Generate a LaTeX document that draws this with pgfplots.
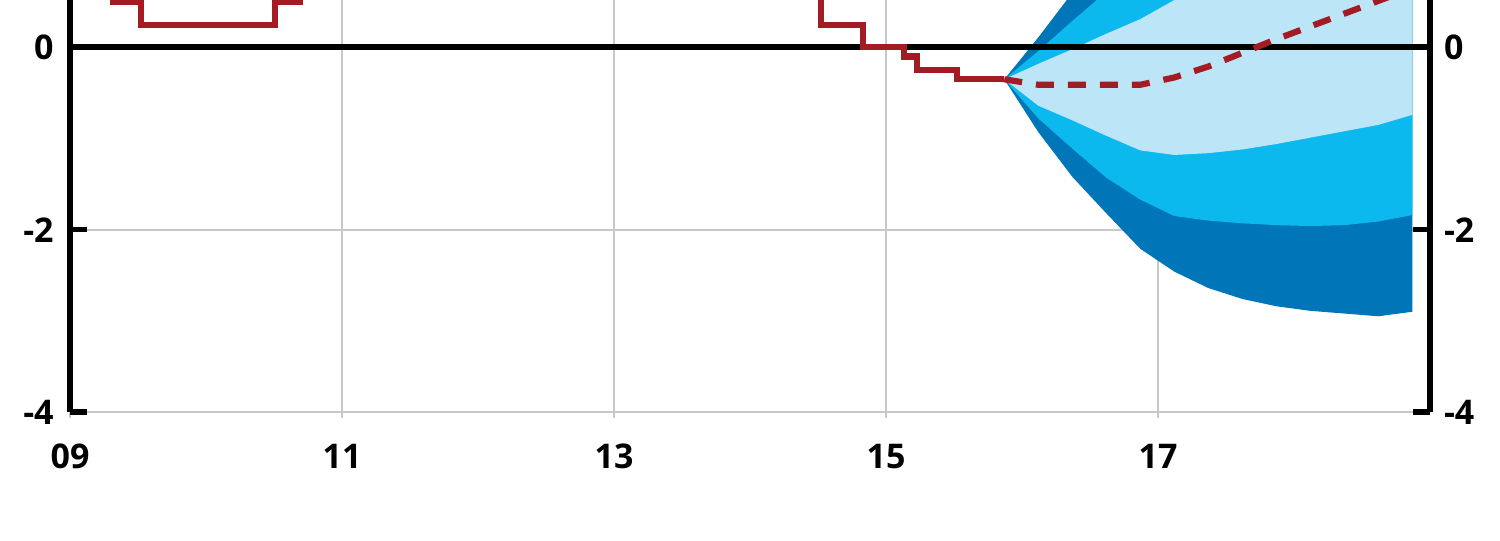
\documentclass[border=0pt]{standalone}
\usepackage{fontspec}
\setmainfont{Open Sans}
\usepackage{pgfplots}
\usepackage{pgfplotstable}
\pgfplotsset{compat=1.18}
\usepgfplotslibrary{fillbetween}
\usetikzlibrary{calc}

\definecolor{repored}{RGB}{163,28,36}
\definecolor{band90}{RGB}{0,117,184}
\definecolor{band75}{RGB}{12,185,238}
\definecolor{band50}{RGB}{189,229,248}
\definecolor{gridgray}{RGB}{200,200,200}

% repo rate, outcome (value holds from x until the next row)
\pgfplotstableread{
x y
9.00 2.00
9.13 1.00
9.32 0.50
9.52 0.25
10.51 0.50
10.69 0.75
10.82 1.00
10.97 1.25
11.14 1.50
11.32 1.75
11.51 2.00
11.97 1.75
12.14 1.50
12.70 1.25
12.97 1.00
13.96 0.75
14.52 0.25
14.83 0.00
15.13 -0.10
15.23 -0.25
15.52 -0.35
15.87 -0.35
}\repo

% forecast and uncertainty bands
\pgfplotstableread{
x f l50 u50 l75 u75 l90 u90
15.87 -0.35 -0.35 -0.35 -0.35 -0.35 -0.35 -0.35
16.12 -0.41 -0.64 -0.18 -0.78 -0.04 -0.93 0.11
16.37 -0.41 -0.80 -0.02 -1.11 0.29 -1.42 0.60
16.62 -0.41 -0.97 0.15 -1.43 0.61 -1.82 1.00
16.87 -0.41 -1.13 0.31 -1.67 0.85 -2.21 1.39
17.12 -0.33 -1.18 0.52 -1.85 1.19 -2.46 1.80
17.37 -0.21 -1.16 0.74 -1.90 1.48 -2.64 2.22
17.62 -0.06 -1.12 1.00 -1.93 1.81 -2.76 2.64
17.87 0.09 -1.06 1.24 -1.95 2.13 -2.84 3.02
18.12 0.23 -0.99 1.45 -1.96 2.42 -2.89 3.35
18.37 0.37 -0.92 1.66 -1.95 2.69 -2.92 3.66
18.62 0.51 -0.85 1.87 -1.91 2.93 -2.95 3.97
18.87 0.65 -0.74 2.04 -1.84 3.14 -2.90 4.20
}\fan

\pgfplotsset{
  fanaxis/.style={
    scale only axis, width=680pt, height=206pt,
    xmin=9, xmax=19, ymin=-4, ymax=0.52,
    ytick={-4,-2,0}, yticklabels={-4,-2,0},
    ticklabel style={font=\fontsize{17}{20}\selectfont\bfseries, inner sep=0pt},
  },
}

\begin{document}
\begin{tikzpicture}
\begin{axis}[
  fanaxis,
  separate axis lines,
  x axis line style={draw=none},
  y axis line style={black, line width=3pt},
  xtick={9,11,13,15,17}, xticklabels={09,11,13,15,17},
  xtick pos=bottom, ytick pos=both,
  xtick align=outside, ytick align=inside,
  grid=major,
  major grid style={gridgray, line width=1pt},
  xtick style={gridgray, line width=1pt, /pgfplots/major tick length=3pt},
  ytick style={black, line width=2.8pt, /pgfplots/major tick length=8.5pt},
  xticklabel style={yshift=-11.5pt},
  yticklabel style={xshift=-8pt},
]
\addplot[black, line width=3pt, forget plot] coordinates {(9,0) (19,0)};

\addplot[name path=u90, draw=none, forget plot] table[x=x, y=u90] {\fan};
\addplot[name path=l90, draw=none, forget plot] table[x=x, y=l90] {\fan};
\addplot[name path=u75, draw=none, forget plot] table[x=x, y=u75] {\fan};
\addplot[name path=l75, draw=none, forget plot] table[x=x, y=l75] {\fan};
\addplot[name path=u50, draw=none, forget plot] table[x=x, y=u50] {\fan};
\addplot[name path=l50, draw=none, forget plot] table[x=x, y=l50] {\fan};
\addplot[band90, draw=none] fill between[of=u90 and l90];
\addplot[band75, draw=none] fill between[of=u75 and l75];
\addplot[band50, draw=none] fill between[of=u50 and l50];

\addplot[repored, line width=3.1pt, const plot] table[x=x, y=y] {\repo};
\addplot[repored, line width=3.1pt, dash pattern=on 9pt off 7pt] table[x=x, y=f] {\fan};
\end{axis}

\begin{axis}[
  fanaxis,
  hide x axis,
  axis y line*=right,
  y axis line style={draw=none},
  ytick style={draw=none},
  yticklabel style={xshift=6.8pt},
]
\end{axis}

\pgfresetboundingbox
\path[use as bounding box] ($(current axis.south west)+(-35pt,-64.5pt)$) rectangle ($(current axis.north east)+(35pt,0pt)$);
\end{tikzpicture}
\end{document}
